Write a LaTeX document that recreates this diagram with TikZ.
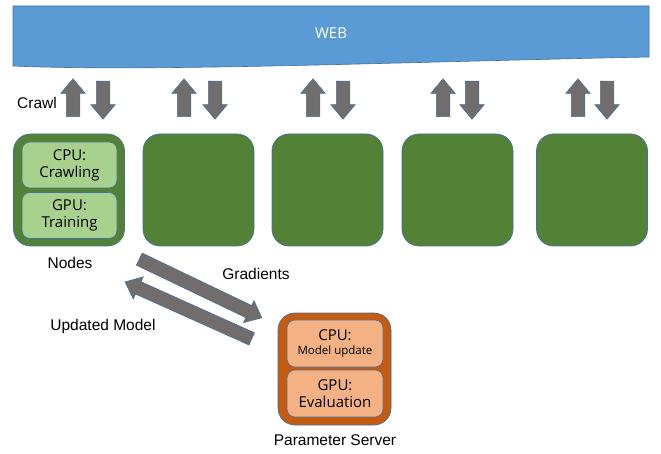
\documentclass[tikz,border=0pt]{standalone}
\usepackage{fontspec}
\setmainfont{Open Sans}
\newfontfamily\labelfont{Liberation Sans}
\usetikzlibrary{shapes.arrows}

\definecolor{webblue}{HTML}{5B9BD5}
\definecolor{edgeblue}{HTML}{41719C}
\definecolor{nodegreen}{HTML}{538135}
\definecolor{cellgreen}{HTML}{A9D18E}
\definecolor{psorange}{HTML}{C55A11}
\definecolor{cellorange}{HTML}{F4B183}
\definecolor{arrowgray}{HTML}{716D6D}

\begin{document}
\begin{tikzpicture}[x=1pt,y=-1pt,
  machine/.style={draw=edgeblue, line width=0.7pt, fill=nodegreen,
    rounded corners=17pt, minimum width=111pt, minimum height=112pt, inner sep=0pt},
  unit/.style={draw=edgeblue, line width=0.6pt, rounded corners=8pt,
    minimum width=95pt, minimum height=46pt, inner sep=0pt, align=center,
    font=\fontsize{15}{17}\selectfont},
  blockarrow/.style={single arrow, draw=edgeblue, line width=0.5pt, fill=arrowgray,
    inner sep=0pt, inner ysep=6.5pt, single arrow head extend=5.5pt,
    single arrow tip angle=80, anchor=tail, minimum height=#1},
  caption/.style={font=\labelfont\fontsize{15.5}{18}\selectfont},
]
\useasboundingbox (0,0) rectangle (661,454);

% the web banner with its wavy lower edge
\draw[edgeblue, line width=0.6pt, fill=webblue]
  (13,6) -- (649,6) -- (649,57) .. controls (400,62) and (150,72) .. (13,66) -- cycle;
\node[text=white, font=\fontsize{15}{18}\selectfont] (web) at (331,33) {WEB};

% crawler machines
\node[machine] (m1) at (69,190) {};
\node[machine] (m2) at (198.5,190) {};
\node[machine] (m3) at (327.5,190) {};
\node[machine] (m4) at (457.5,190) {};
\node[machine] (m5) at (592,190) {};

\node[unit, fill=cellgreen] (cpu1) at (69.5,165) {CPU:\\Crawling};
\node[unit, fill=cellgreen] (gpu1) at (69.5,215.5) {GPU:\\Training};

% crawl traffic between the web and each machine
\foreach \u/\d [count=\i] in {73/103, 184/215, 313/343, 443/472, 578/607} {
  \node[blockarrow=38pt, rotate=90]  (up\i)   at (\u,117) {};
  \node[blockarrow=38pt, rotate=-90] (down\i) at (\d,81) {};
}

% parameter server
\node[draw=edgeblue, line width=0.7pt, fill=psorange, rounded corners=17pt,
  minimum width=113pt, minimum height=112pt, inner sep=0pt] (ps) at (334.5,369) {};
\node[unit, fill=cellorange, minimum width=96pt, minimum height=47pt] (cpups) at (335,343.5)
  {CPU:\\[-3pt]{\fontsize{11.5}{13}\selectfont Model update}};
\node[unit, fill=cellorange, minimum width=96pt, minimum height=47pt] (gpups) at (335,393.5)
  {GPU:\\Evaluation};

% gradient and model exchange
\node[blockarrow=136pt, rotate=-25.6] (grad) at (139,259) {};
\node[blockarrow=139pt, rotate=155.8] (upd) at (252,339) {};

% captions
\node[caption] (crawl) at (37,103) {Crawl};
\node[caption] (nodes) at (70,263) {Nodes};
\node[caption] (gradlbl) at (256,274) {Gradients};
\node[caption] (updlbl) at (103,326) {Updated Model};
\node[caption] (pslbl) at (335,440) {Parameter Server};
\end{tikzpicture}
\end{document}
